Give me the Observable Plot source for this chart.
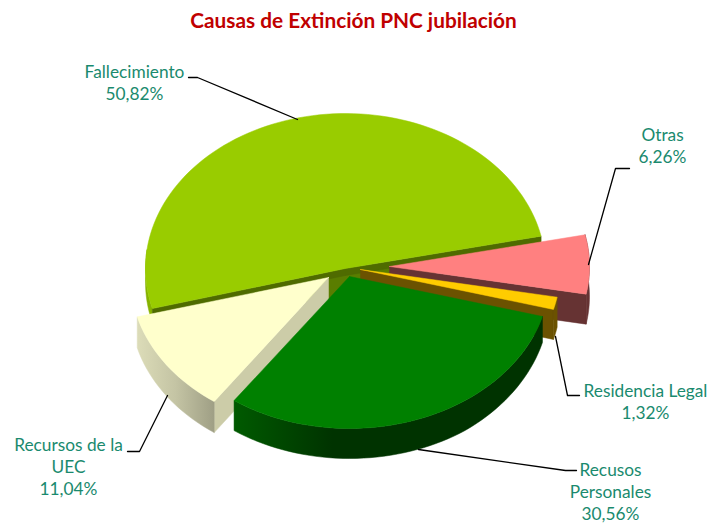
<!DOCTYPE html>
<html><head><meta charset="utf-8">
<style>html,body{margin:0;padding:0;background:#fff}svg{display:block}</style>
<script src="https://cdn.jsdelivr.net/npm/d3@7"></script>
<script src="https://cdn.jsdelivr.net/npm/@observablehq/plot@0.6"></script>
</head><body><script>
const categories = ["Fallecimiento","Otras","Residencia Legal","Recusos Personales","Recursos de la UEC"];
const values = [50.82,6.26,1.32,30.56,11.04];
const labelNames = ["Fallecimiento","Otras","Residencia Legal","Recusos\nPersonales","Recursos de la\nUEC"];
const topColors = ["#99CC00","#FF8080","#FFCC00","#008000","#FFFFCC"];
const chartTitle = "Causas de Extinción PNC jubilación";

// layout of the exploded tilted pie
const startAngle = 255;
const layout = [
  {cx:345,cy:268,rx:200,ry:155,depth:7},
  {cx:389,cy:266,rx:200,ry:152,depth:30},
  {cx:360,cy:269,rx:200,ry:152,depth:30},
  {cx:349,cy:276,rx:200,ry:152,depth:30},
  {cx:328,cy:277,rx:198,ry:152,depth:31}
];
const labelPos = [[134,81],[662,144],[645,400],[610,490],[68,465]];
const leaders = [
  [[188,77],[197,77],[297,119]],
  [[588,264],[615,168],[629,168]],
  [[555,336],[567,395],[579,395]],
  [[418,449],[565,470],[576,470]],
  [[167,395],[139,451],[127,451]]
];
const gradients = [
  {id:"recusRim",stops:[[0,"#005A00"],[0.32,"#003300"],[1,"#003300"]]},
  {id:"uecRim",stops:[[0,"#DCDCB8"],[0.5,"#C4C4A4"],[1,"#9F9F85"]]}
];

const rad = d => d*Math.PI/180;
const acc = d3.cumsum(values);
const slices = values.map((v,i)=>({
  ...layout[i], a0:startAngle+(i?acc[i-1]:0)*3.6, a1:startAngle+acc[i]*3.6, color:topColors[i]
}));
const P = (s,a,dy=0)=>[s.cx+s.rx*Math.sin(rad(a)), s.cy-s.ry*Math.cos(rad(a))+dy];
const angles = (a0,a1)=>{
  const n=Math.max(2,Math.ceil(Math.abs(a1-a0)/2));
  return d3.range(n+1).map(k=>a0+(a1-a0)*k/n);
};
let rows=[], pid=0;
const poly=(pts,fill)=>{pid++; [...pts,pts[0]].forEach(([x,y])=>rows.push({x,y,poly:pid,fill}));};
const topFace=s=>poly([[s.cx,s.cy],...angles(s.a0,s.a1).map(a=>P(s,a))],s.color);
const rim=(s,a0,a1,dy,fill)=>{
  const as=angles(a0,a1), d=typeof dy==="function"?dy:()=>dy;
  poly([...as.map(a=>P(s,a)),...as.slice().reverse().map(a=>P(s,a,d(a)))],fill);
};
const wall=(s,a,fill)=>poly([[s.cx,s.cy],P(s,a),P(s,a,s.depth),[s.cx,s.cy+s.depth]],fill);

const [fall,otras,resid,recus,uec]=slices;
// Fallecimiento
rim(fall,fall.a0,fall.a0+22,14,"#86B200");
poly([P(fall,fall.a0,fall.depth),[fall.cx,fall.cy],P(fall,fall.a1,fall.depth),[fall.cx,fall.cy+30]],"#5A7D00");
wall(fall,fall.a0,"#4F6B00");
wall(fall,fall.a1,"#4F6B00");
topFace(fall);
// Otras
wall(otras,otras.a1,"#663333");
rim(otras,otras.a0,otras.a1,otras.depth,"#663333");
topFace(otras);
// Residencia Legal
wall(resid,resid.a1,"#6B5200");
rim(resid,resid.a0,resid.a1,resid.depth,"#6B5200");
topFace(resid);
// Recursos de la UEC
wall(uec,uec.a0,"#CCCCA8");
rim(uec,uec.a0,uec.a1,uec.depth,"url(#uecRim)");
topFace(uec);
// Recusos Personales
rim(recus,recus.a0,recus.a1,a=>26+4*Math.min(1,(a-recus.a0)/40),"url(#recusRim)");
topFace(recus);

const leaderRows=leaders.flatMap((l,i)=>l.map(([x,y])=>({x,y,i})));
const pct=v=>v.toFixed(2).replace(".",",")+"%";
const labels=labelNames.map((n,i)=>({x:labelPos[i][0],y:labelPos[i][1],text:n+"\n"+pct(values[i])}));

const defsMark=()=>{
  const defs=d3.create("svg:defs");
  gradients.forEach(g=>{
    const lg=defs.append("linearGradient").attr("id",g.id).attr("x1",0).attr("x2",1).attr("y1",0).attr("y2",0);
    g.stops.forEach(([o,c])=>lg.append("stop").attr("offset",o).attr("stop-color",c));
  });
  return defs.node();
};

const chart=Plot.plot({
  width:710,height:527,margin:0,
  x:{domain:[0,710],range:[0,710],axis:null},
  y:{domain:[0,527],range:[0,527],axis:null},
  color:{type:"identity"},
  marks:[
    defsMark,
    Plot.line(rows,{x:"x",y:"y",z:"poly",fill:"fill",stroke:"fill",strokeWidth:0.5,curve:"linear"}),
    Plot.line(leaderRows,{x:"x",y:"y",z:"i",stroke:"#000",strokeWidth:1.3,curve:"linear"}),
    Plot.text(labels,{x:"x",y:"y",text:"text",fill:"#1A8A6E",fontSize:17.3,fontFamily:"Lato",lineHeight:1.27,textAnchor:"middle"}),
    Plot.text([chartTitle],{x:()=>353,y:()=>21,text:d=>d,fill:"#C00000",fontSize:20.8,fontWeight:"bold",fontFamily:"Lato",textAnchor:"middle"})
  ]
});
document.body.appendChild(chart);
</script></body></html>
